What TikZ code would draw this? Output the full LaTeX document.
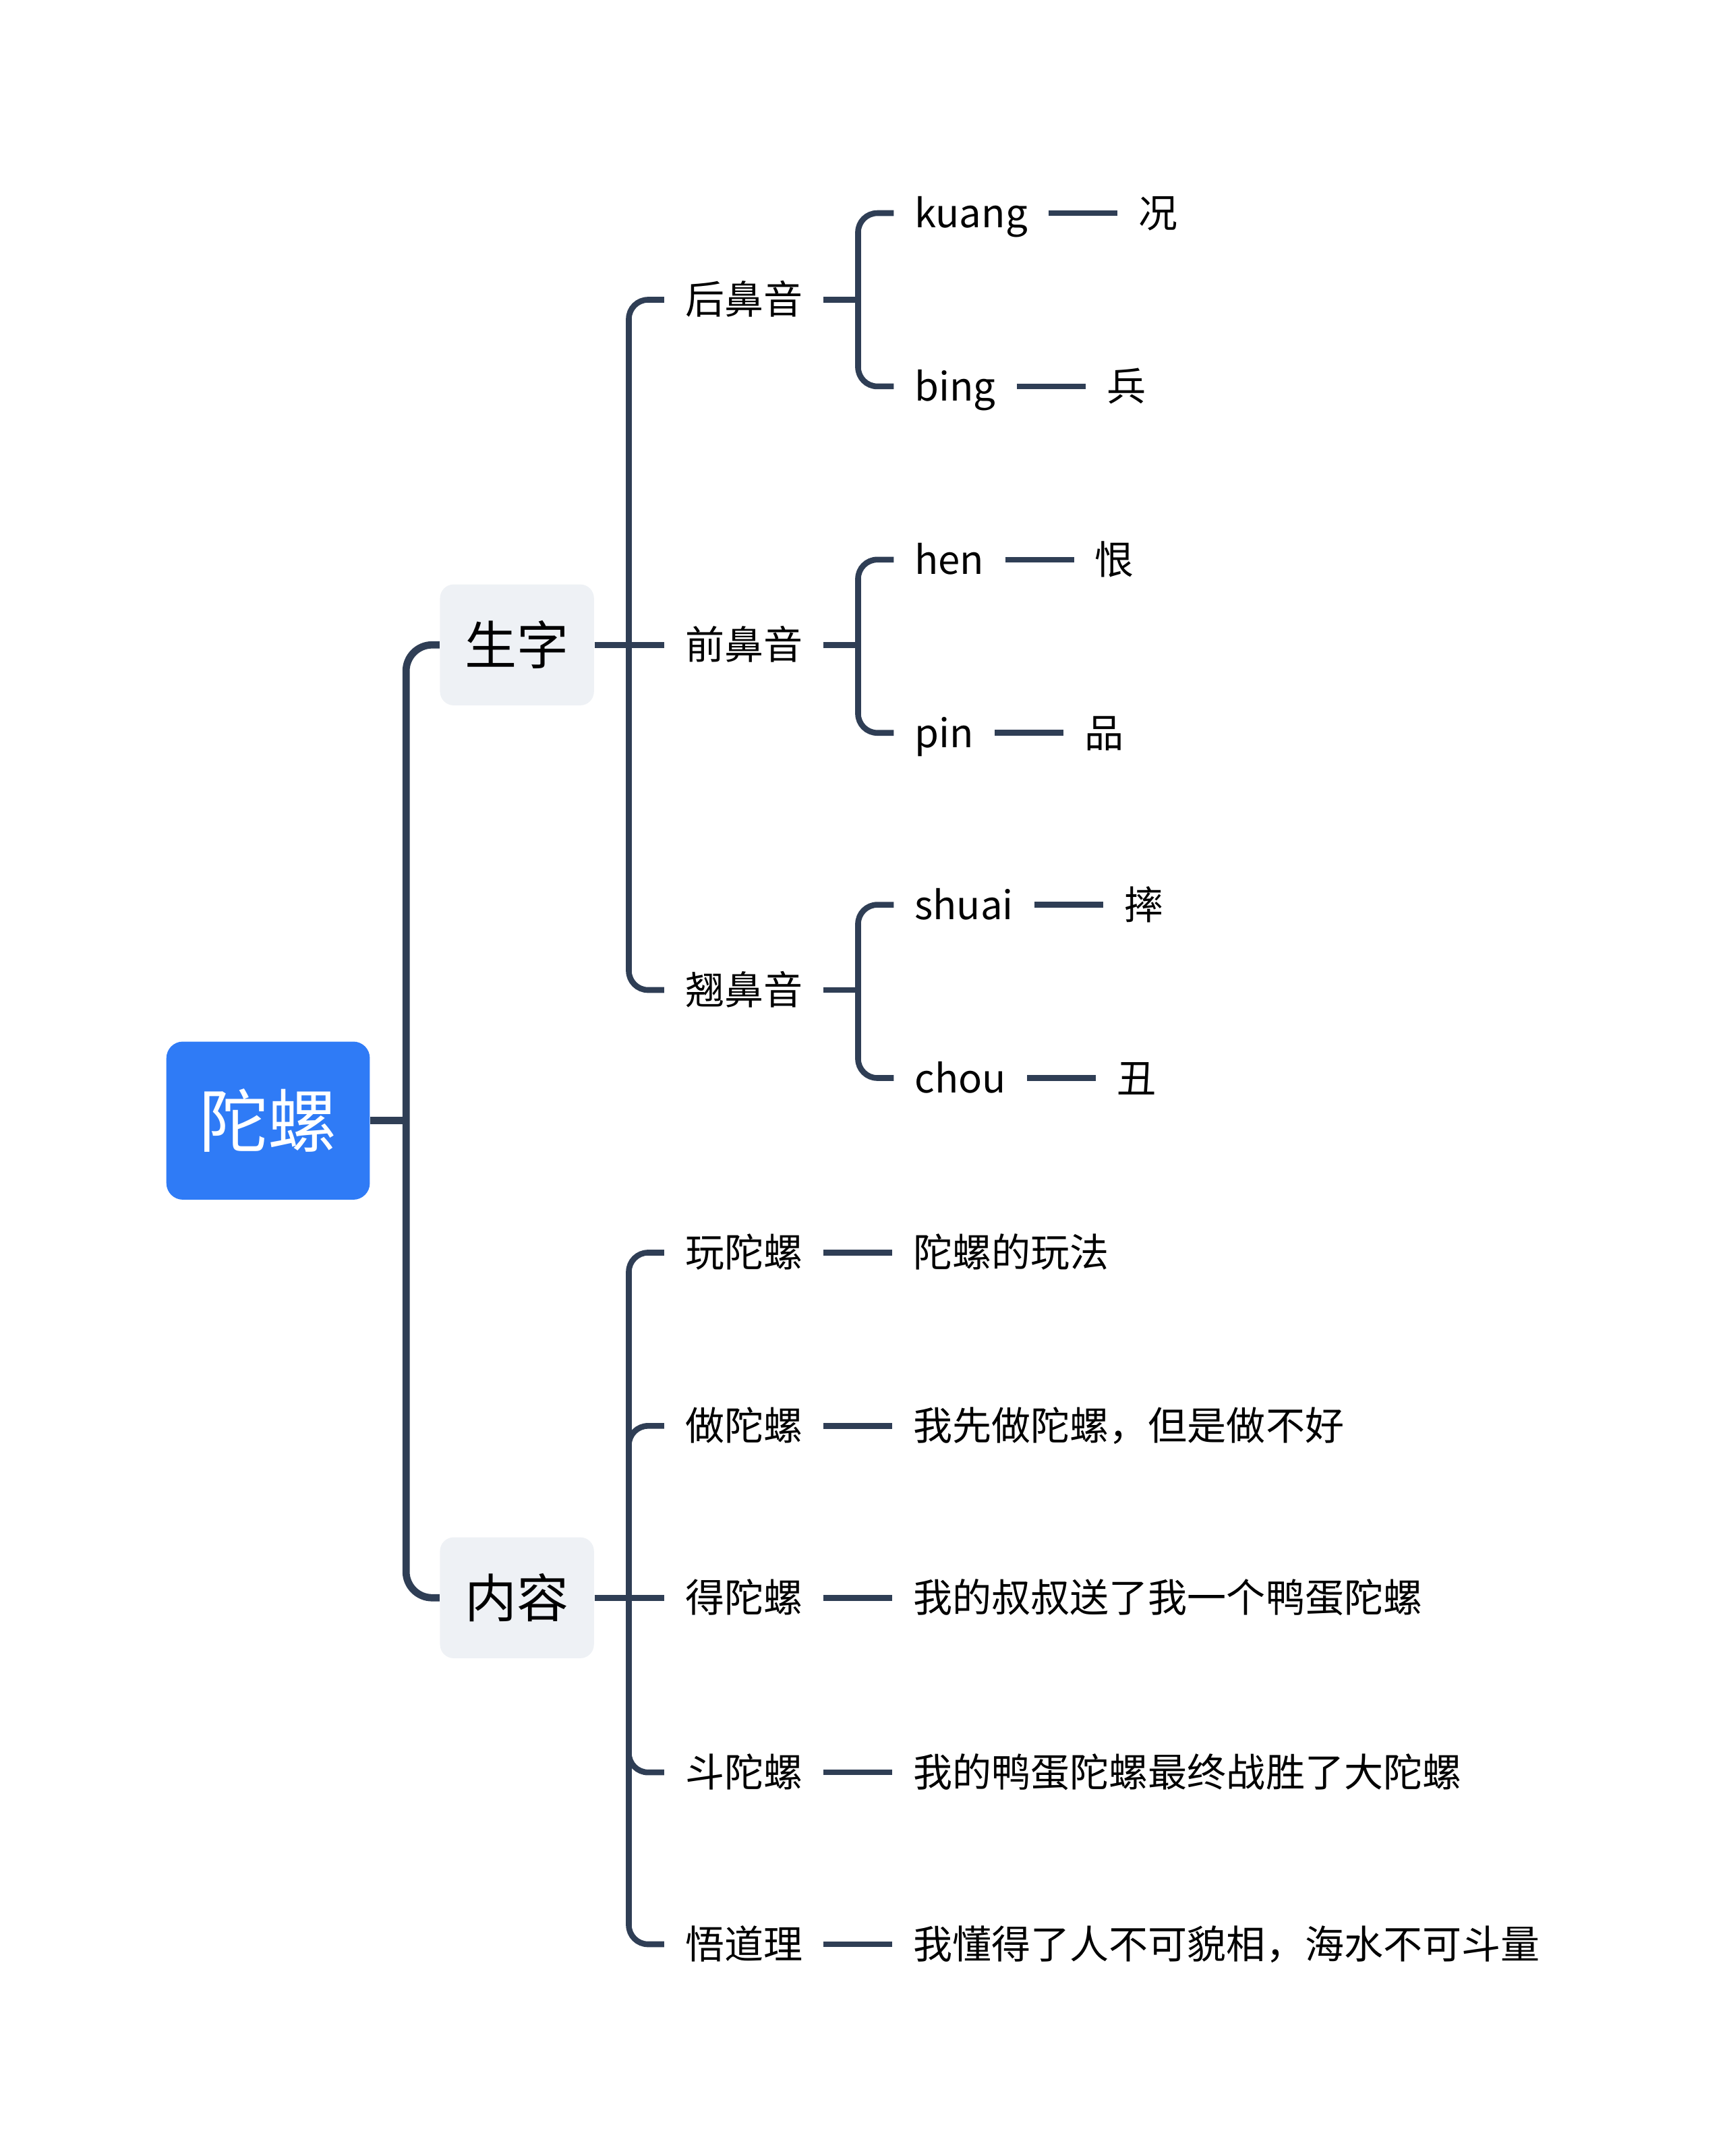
\documentclass[tikz,border=0pt]{standalone}
\usepackage{fontspec}
\setmainfont{Noto Sans CJK SC}
\usetikzlibrary{positioning,calc}
\definecolor{rootblue}{HTML}{2F7BF6}
\definecolor{topicgray}{HTML}{EEF1F5}
\definecolor{branchline}{HTML}{2F3E55}

\begin{document}
\begin{tikzpicture}[x=0.02cm,y=-0.02cm,
  rootbox/.style={fill=rootblue,rounded corners=0.24cm,minimum width=2.96cm,minimum height=2.3cm,text=white,font=\fontsize{28.5}{34}\selectfont},
  topicbox/.style={fill=topicgray,rounded corners=0.2cm,minimum width=2.24cm,minimum height=1.76cm,font=\fontsize{21.5}{26}\selectfont},
  itemnode/.style={anchor=west,inner xsep=0.3cm,inner ysep=0pt,text height=12pt,text depth=0pt,font=\fontsize{16.2}{19}\selectfont},
  trunk/.style={draw=branchline,line width=3pt,rounded corners=0.38cm},
  branch/.style={draw=branchline,line width=2.4pt,rounded corners=0.28cm}
]
\useasboundingbox (0,0) rectangle (1256,1568);
\node[rootbox] (root) at (195,815) {陀螺};
\node[topicbox] (shengzi) at (376,469) {生字};
\node[topicbox] (neirong) at (376,1162) {内容};
% pronunciation groups
\node[itemnode] (houbi) at (483,218) {后鼻音};
\node[itemnode] (qianbi) at (483,469) {前鼻音};
\node[itemnode] (qiaobi) at (483,720) {翘鼻音};
\node[itemnode] (kuang) at (650,155) {kuang};
\node[itemnode] (bing) at (650,281) {bing};
\node[itemnode] (hen) at (650,407) {hen};
\node[itemnode] (pin) at (650,533) {pin};
\node[itemnode] (shuai) at (650,658) {shuai};
\node[itemnode] (chou) at (650,784) {chou};
\node[itemnode,right=1cm of kuang] (kuangzi) {况};
\node[itemnode,right=1cm of bing] (bingzi) {兵};
\node[itemnode,right=1cm of hen] (henzi) {恨};
\node[itemnode,right=1cm of pin] (pinzi) {品};
\node[itemnode,right=1cm of shuai] (shuaizi) {摔};
\node[itemnode,right=1cm of chou] (chouzi) {丑};
% content
\node[itemnode] (wan) at (483,911) {玩陀螺};
\node[itemnode] (zuo) at (483,1037) {做陀螺};
\node[itemnode] (de) at (483,1162) {得陀螺};
\node[itemnode] (dou) at (483,1289) {斗陀螺};
\node[itemnode] (wu) at (483,1414) {悟道理};
\node[itemnode,right=1cm of wan] (wantext) {陀螺的玩法};
\node[itemnode,right=1cm of zuo] (zuotext) {我先做陀螺，但是做不好};
\node[itemnode,right=1cm of de] (detext) {我的叔叔送了我一个鸭蛋陀螺};
\node[itemnode,right=1cm of dou] (doutext) {我的鸭蛋陀螺最终战胜了大陀螺};
\node[itemnode,right=1cm of wu] (wutext) {我懂得了人不可貌相，海水不可斗量};
% connectors
\coordinate (rootfork) at ($(root.east)+(26,0)$);
\draw[trunk] (root.east) -- (rootfork);
\draw[trunk] (shengzi.west) -| (rootfork) |- (neirong.west);
\coordinate (shengfork) at ($(shengzi.east)+(25,0)$);
\draw[branch] (shengzi.east) -- (qianbi.west);
\draw[branch] (houbi.west) -| (shengfork) |- (qiaobi.west);
\coordinate (neifork) at ($(neirong.east)+(25,0)$);
\draw[branch] (neirong.east) -- (de.west);
\draw[branch] (wan.west) -| (neifork) |- (wu.west);
\draw[branch] (zuo.west) -| (neifork);
\draw[branch] (dou.west) -| (neifork);
\foreach \grp/\up/\down in {houbi/kuang/bing,qianbi/hen/pin,qiaobi/shuai/chou}{
  \coordinate (\grp fork) at ($(\grp.east)+(25,0)$);
  \draw[branch] (\grp.east) -- (\grp fork);
  \draw[branch] (\up.west) -| (\grp fork) |- (\down.west);
}
\foreach \a/\b in {kuang/kuangzi,bing/bingzi,hen/henzi,pin/pinzi,shuai/shuaizi,chou/chouzi,
  wan/wantext,zuo/zuotext,de/detext,dou/doutext,wu/wutext}
  \draw[branch] (\a.east) -- (\b.west);
\end{tikzpicture}
\end{document}
